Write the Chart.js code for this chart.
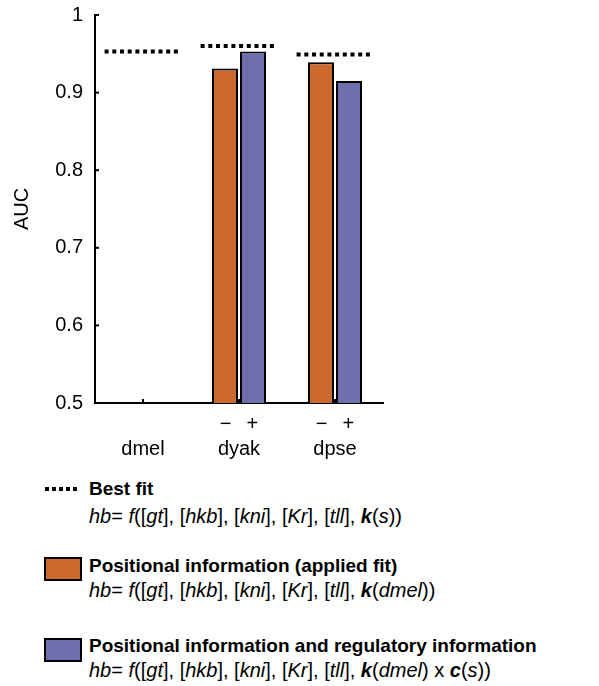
<!DOCTYPE html>
<html>
<head>
<meta charset="utf-8">
<script src="https://cdn.jsdelivr.net/npm/chart.js@4"></script>
<style>
  body { margin: 0; background: #fff; }
  #wrap { position: relative; width: 599px; height: 686px; font-family: "Liberation Sans", Arial, sans-serif; color: #000; }
  #chart { position: absolute; left: 0; top: 0; }
  .ln { position: absolute; left: 89px; font-size: 20px; line-height: 22px; white-space: nowrap; }
  .ttl { font-weight: bold; font-size: 19px; }
  .sw { position: absolute; left: 44px; width: 34px; height: 20px; border: 2px solid #000; }
  .dots { position: absolute; left: 45px; width: 34px; height: 4px;
          background: repeating-linear-gradient(90deg, #000 0 4px, transparent 4px 7px); }
</style>
</head>
<body>
<div id="wrap">
  <canvas id="chart" width="599" height="470"></canvas>

  <div class="dots" style="top:487px"></div>
  <div class="ln ttl" style="top:478px">Best fit</div>
  <div class="ln" style="top:505px"><i>hb</i>= <i>f</i>([<i>gt</i>], [<i>hkb</i>], [<i>kni</i>], [<i>Kr</i>], [<i>tll</i>], <b><i>k</i></b>(<i>s</i>))</div>

  <div class="sw" style="top:557px; background:#CB6A2C"></div>
  <div class="ln ttl" style="top:555px">Positional information (applied fit)</div>
  <div class="ln" style="top:579px"><i>hb</i>= <i>f</i>([<i>gt</i>], [<i>hkb</i>], [<i>kni</i>], [<i>Kr</i>], [<i>tll</i>], <b><i>k</i></b>(<i>dmel</i>))</div>

  <div class="sw" style="top:638px; background:#6F6FAD"></div>
  <div class="ln ttl" style="top:635px">Positional information and regulatory information</div>
  <div class="ln" style="top:659px"><i>hb</i>= <i>f</i>([<i>gt</i>], [<i>hkb</i>], [<i>kni</i>], [<i>Kr</i>], [<i>tll</i>], <b><i>k</i></b>(<i>dmel</i>) x <b><i>c</i></b>(<i>s</i>))</div>
</div>

<script>
// data
const categories = ['dmel', 'dyak', 'dpse'];
const signLabels = ['', '\u2212  \u2009+', '\u2212  \u2009+'];
const bestFit = [0.953, 0.960, 0.949];
const appliedFit = [null, 0.931, 0.939];
const regulatoryFit = [null, 0.953, 0.915];
const yTicks = [0.5, 0.6, 0.7, 0.8, 0.9, 1];

Chart.defaults.font.family = '"Liberation Sans", Arial, sans-serif';
Chart.defaults.font.size = 20;
Chart.defaults.color = '#000';

// dotted best-fit segment over each category + small inward tick marks
const extras = {
  id: 'extras',
  afterDatasetsDraw(chart) {
    const { ctx, chartArea, scales } = chart;
    const x = scales.x, y = scales.y;
    const step = x.getPixelForValue(1) - x.getPixelForValue(0);
    ctx.save();
    ctx.strokeStyle = '#000';
    ctx.lineWidth = 4;
    ctx.lineCap = 'butt';
    ctx.setLineDash([4, 3.7]);
    bestFit.forEach((v, i) => {
      const cx = x.getPixelForValue(i), py = y.getPixelForValue(v);
      ctx.beginPath();
      ctx.moveTo(cx - step * 0.4, py);
      ctx.lineTo(cx + step * 0.4, py);
      ctx.stroke();
    });
    ctx.setLineDash([]);
    ctx.lineWidth = 2;
    yTicks.forEach(v => {
      const py = y.getPixelForValue(v);
      ctx.beginPath(); ctx.moveTo(chartArea.left, py); ctx.lineTo(chartArea.left + 4, py); ctx.stroke();
    });
    categories.forEach((c, i) => {
      const cx = x.getPixelForValue(i);
      ctx.beginPath(); ctx.moveTo(cx, chartArea.bottom); ctx.lineTo(cx, chartArea.bottom - 4); ctx.stroke();
    });
    ctx.restore();
  }
};

new Chart(document.getElementById('chart'), {
  type: 'bar',
  data: {
    labels: categories.map((c, i) => [signLabels[i], c]),
    datasets: [
      {
        label: 'Positional information (applied fit)',
        data: appliedFit,
        backgroundColor: '#CB6A2C',
        borderColor: '#000',
        borderWidth: 2,
        borderSkipped: 'bottom'
      },
      {
        label: 'Positional information and regulatory information',
        data: regulatoryFit,
        backgroundColor: '#6F6FAD',
        borderColor: '#000',
        borderWidth: 2,
        borderSkipped: 'bottom'
      }
    ]
  },
  options: {
    responsive: false,
    animation: false,
    categoryPercentage: 0.583,
    barPercentage: 0.93,
    layout: { padding: { left: 0, right: 216, top: 0, bottom: 0 } },
    plugins: { legend: { display: false }, tooltip: { enabled: false } },
    scales: {
      x: {
        offset: true,
        grid: { display: true, drawOnChartArea: false, drawTicks: false },
        border: { display: true, color: '#000', width: 2 },
        ticks: { padding: 9, maxRotation: 0, font: { size: 20, lineHeight: 1.25 } },
        afterFit(scale) { scale.height = 67; }
      },
      y: {
        min: 0.5,
        max: 1,
        grid: { display: true, drawOnChartArea: false, drawTicks: false },
        border: { display: true, color: '#000', width: 2 },
        ticks: {
          padding: 12,
          callback: v => String(+v.toFixed(1))
        },
        afterBuildTicks(scale) { scale.ticks = yTicks.map(v => ({ value: v })); },
        afterFit(scale) { scale.width = 95; scale.paddingTop = 15; },
        title: { display: true, text: 'AUC', font: { size: 20 }, padding: { top: 10, bottom: 0 } }
      }
    }
  },
  plugins: [extras]
});
</script>
</body>
</html>
